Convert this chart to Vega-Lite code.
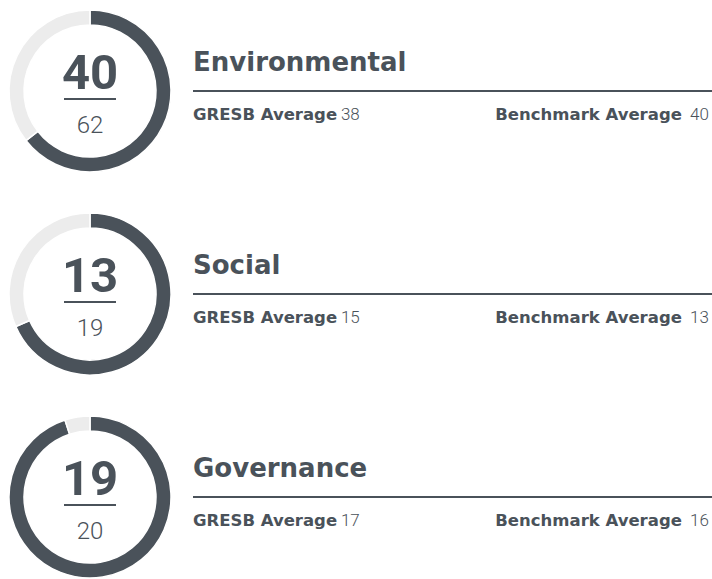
{
  "$schema": "https://vega.github.io/schema/vega-lite/v6.json",
  "padding": {"left": 6, "top": 7, "right": 0, "bottom": 0},
  "spacing": 35,
  "background": "white",
  "config": {"view": {"stroke": null}, "concat": {"spacing": 18}, "text": {"color": "#4a525a"}},
  "datasets": {
    "slices": [
      {"category": "Environmental", "part": "score", "ord": 1, "value": 40},
      {"category": "Environmental", "part": "rest", "ord": 2, "value": 22},
      {"category": "Social", "part": "score", "ord": 1, "value": 13},
      {"category": "Social", "part": "rest", "ord": 2, "value": 6},
      {"category": "Governance", "part": "score", "ord": 1, "value": 19},
      {"category": "Governance", "part": "rest", "ord": 2, "value": 1}
    ],
    "cats": [
      {"category": "Environmental", "score": 40, "max": 62, "gresb": 38, "benchmark": 40},
      {"category": "Social", "score": 13, "max": 19, "gresb": 15, "benchmark": 13},
      {"category": "Governance", "score": 19, "max": 20, "gresb": 17, "benchmark": 16}
    ]
  },
  "vconcat": [
    {
      "hconcat": [
        {
          "width": 164, "height": 164,
          "layer": [
            {"data": {"name": "slices"}, "transform": [{"filter": "datum.category === 'Environmental'"}],
             "mark": {"type": "arc", "innerRadius": 66, "outerRadius": 81, "stroke": "#ffffff", "strokeWidth": 1.5},
             "encoding": {"theta": {"field": "value", "type": "quantitative", "stack": true},
                          "color": {"field": "part", "type": "nominal", "scale": {"domain": ["score", "rest"], "range": ["#4a525a", "#ececec"]}, "legend": null},
                          "order": {"field": "ord", "type": "quantitative"}}},
            {"data": {"name": "cats"}, "transform": [{"filter": "datum.category === 'Environmental'"}],
             "mark": {"type": "text", "font": "Roboto", "fontSize": 49, "fontWeight": "bold", "baseline": "alphabetic", "align": "center"},
             "encoding": {"text": {"field": "score"},
                          "x": {"datum": 0, "type": "quantitative", "scale": {"domain": [-1, 1], "nice": false}, "axis": null},
                          "y": {"datum": 0.024, "type": "quantitative", "scale": {"domain": [-1, 1], "nice": false}, "axis": null}}},
            {"data": {"name": "cats"}, "transform": [{"filter": "datum.category === 'Environmental'"}],
             "mark": {"type": "rule", "strokeWidth": 2, "color": "#4a525a"},
             "encoding": {"x": {"datum": -0.317, "type": "quantitative"}, "x2": {"datum": 0.317}, "y": {"datum": -0.098, "type": "quantitative"}}},
            {"data": {"name": "cats"}, "transform": [{"filter": "datum.category === 'Environmental'"}],
             "mark": {"type": "text", "font": "Roboto", "fontSize": 24, "fontWeight": 300, "baseline": "alphabetic", "align": "center"},
             "encoding": {"text": {"field": "max"}, "x": {"datum": 0, "type": "quantitative"}, "y": {"datum": -0.512, "type": "quantitative"}}}
          ]
        },
        {
          "width": 519, "height": 164,
          "data": {"name": "cats"}, "transform": [{"filter": "datum.category === 'Environmental'"}],
          "encoding": {"x": {"datum": 0, "type": "quantitative", "scale": {"domain": [0, 1], "nice": false}, "axis": null}},
          "layer": [
            {"mark": {"type": "text", "font": "DejaVu Sans", "fontSize": 26, "fontWeight": "bold", "baseline": "alphabetic", "align": "left"},
             "encoding": {"text": {"field": "category"}, "y": {"datum": 0.244, "type": "quantitative", "scale": {"domain": [-1, 1], "nice": false}, "axis": null}}},
            {"mark": {"type": "rule", "strokeWidth": 2, "color": "#4a525a"},
             "encoding": {"x2": {"datum": 1}, "y": {"datum": 0, "type": "quantitative"}}},
            {"mark": {"type": "text", "font": "DejaVu Sans", "fontSize": 16.5, "fontWeight": "bold", "baseline": "alphabetic", "align": "left", "text": "GRESB Average"},
             "encoding": {"y": {"datum": -0.354, "type": "quantitative"}}},
            {"mark": {"type": "text", "font": "Roboto", "fontSize": 17, "fontWeight": 300, "baseline": "alphabetic", "align": "left"},
             "encoding": {"text": {"field": "gresb"}, "x": {"datum": 0.285, "type": "quantitative"}, "y": {"datum": -0.354, "type": "quantitative"}}},
            {"mark": {"type": "text", "font": "DejaVu Sans", "fontSize": 16.5, "fontWeight": "bold", "baseline": "alphabetic", "align": "right", "text": "Benchmark Average"},
             "encoding": {"x": {"datum": 0.942, "type": "quantitative"}, "y": {"datum": -0.354, "type": "quantitative"}}},
            {"mark": {"type": "text", "font": "Roboto", "fontSize": 17, "fontWeight": 300, "baseline": "alphabetic", "align": "right"},
             "encoding": {"text": {"field": "benchmark"}, "x": {"datum": 0.994, "type": "quantitative"}, "y": {"datum": -0.354, "type": "quantitative"}}}
          ]
        }
      ]
    },
    {
      "hconcat": [
        {
          "width": 164, "height": 164,
          "layer": [
            {"data": {"name": "slices"}, "transform": [{"filter": "datum.category === 'Social'"}],
             "mark": {"type": "arc", "innerRadius": 66, "outerRadius": 81, "stroke": "#ffffff", "strokeWidth": 1.5},
             "encoding": {"theta": {"field": "value", "type": "quantitative", "stack": true},
                          "color": {"field": "part", "type": "nominal", "scale": {"domain": ["score", "rest"], "range": ["#4a525a", "#ececec"]}, "legend": null},
                          "order": {"field": "ord", "type": "quantitative"}}},
            {"data": {"name": "cats"}, "transform": [{"filter": "datum.category === 'Social'"}],
             "mark": {"type": "text", "font": "Roboto", "fontSize": 49, "fontWeight": "bold", "baseline": "alphabetic", "align": "center"},
             "encoding": {"text": {"field": "score"},
                          "x": {"datum": 0, "type": "quantitative", "scale": {"domain": [-1, 1], "nice": false}, "axis": null},
                          "y": {"datum": 0.024, "type": "quantitative", "scale": {"domain": [-1, 1], "nice": false}, "axis": null}}},
            {"data": {"name": "cats"}, "transform": [{"filter": "datum.category === 'Social'"}],
             "mark": {"type": "rule", "strokeWidth": 2, "color": "#4a525a"},
             "encoding": {"x": {"datum": -0.317, "type": "quantitative"}, "x2": {"datum": 0.317}, "y": {"datum": -0.098, "type": "quantitative"}}},
            {"data": {"name": "cats"}, "transform": [{"filter": "datum.category === 'Social'"}],
             "mark": {"type": "text", "font": "Roboto", "fontSize": 24, "fontWeight": 300, "baseline": "alphabetic", "align": "center"},
             "encoding": {"text": {"field": "max"}, "x": {"datum": 0, "type": "quantitative"}, "y": {"datum": -0.512, "type": "quantitative"}}}
          ]
        },
        {
          "width": 519, "height": 164,
          "data": {"name": "cats"}, "transform": [{"filter": "datum.category === 'Social'"}],
          "encoding": {"x": {"datum": 0, "type": "quantitative", "scale": {"domain": [0, 1], "nice": false}, "axis": null}},
          "layer": [
            {"mark": {"type": "text", "font": "DejaVu Sans", "fontSize": 26, "fontWeight": "bold", "baseline": "alphabetic", "align": "left"},
             "encoding": {"text": {"field": "category"}, "y": {"datum": 0.244, "type": "quantitative", "scale": {"domain": [-1, 1], "nice": false}, "axis": null}}},
            {"mark": {"type": "rule", "strokeWidth": 2, "color": "#4a525a"},
             "encoding": {"x2": {"datum": 1}, "y": {"datum": 0, "type": "quantitative"}}},
            {"mark": {"type": "text", "font": "DejaVu Sans", "fontSize": 16.5, "fontWeight": "bold", "baseline": "alphabetic", "align": "left", "text": "GRESB Average"},
             "encoding": {"y": {"datum": -0.354, "type": "quantitative"}}},
            {"mark": {"type": "text", "font": "Roboto", "fontSize": 17, "fontWeight": 300, "baseline": "alphabetic", "align": "left"},
             "encoding": {"text": {"field": "gresb"}, "x": {"datum": 0.285, "type": "quantitative"}, "y": {"datum": -0.354, "type": "quantitative"}}},
            {"mark": {"type": "text", "font": "DejaVu Sans", "fontSize": 16.5, "fontWeight": "bold", "baseline": "alphabetic", "align": "right", "text": "Benchmark Average"},
             "encoding": {"x": {"datum": 0.942, "type": "quantitative"}, "y": {"datum": -0.354, "type": "quantitative"}}},
            {"mark": {"type": "text", "font": "Roboto", "fontSize": 17, "fontWeight": 300, "baseline": "alphabetic", "align": "right"},
             "encoding": {"text": {"field": "benchmark"}, "x": {"datum": 0.994, "type": "quantitative"}, "y": {"datum": -0.354, "type": "quantitative"}}}
          ]
        }
      ]
    },
    {
      "hconcat": [
        {
          "width": 164, "height": 164,
          "layer": [
            {"data": {"name": "slices"}, "transform": [{"filter": "datum.category === 'Governance'"}],
             "mark": {"type": "arc", "innerRadius": 66, "outerRadius": 81, "stroke": "#ffffff", "strokeWidth": 1.5},
             "encoding": {"theta": {"field": "value", "type": "quantitative", "stack": true},
                          "color": {"field": "part", "type": "nominal", "scale": {"domain": ["score", "rest"], "range": ["#4a525a", "#ececec"]}, "legend": null},
                          "order": {"field": "ord", "type": "quantitative"}}},
            {"data": {"name": "cats"}, "transform": [{"filter": "datum.category === 'Governance'"}],
             "mark": {"type": "text", "font": "Roboto", "fontSize": 49, "fontWeight": "bold", "baseline": "alphabetic", "align": "center"},
             "encoding": {"text": {"field": "score"},
                          "x": {"datum": 0, "type": "quantitative", "scale": {"domain": [-1, 1], "nice": false}, "axis": null},
                          "y": {"datum": 0.024, "type": "quantitative", "scale": {"domain": [-1, 1], "nice": false}, "axis": null}}},
            {"data": {"name": "cats"}, "transform": [{"filter": "datum.category === 'Governance'"}],
             "mark": {"type": "rule", "strokeWidth": 2, "color": "#4a525a"},
             "encoding": {"x": {"datum": -0.317, "type": "quantitative"}, "x2": {"datum": 0.317}, "y": {"datum": -0.098, "type": "quantitative"}}},
            {"data": {"name": "cats"}, "transform": [{"filter": "datum.category === 'Governance'"}],
             "mark": {"type": "text", "font": "Roboto", "fontSize": 24, "fontWeight": 300, "baseline": "alphabetic", "align": "center"},
             "encoding": {"text": {"field": "max"}, "x": {"datum": 0, "type": "quantitative"}, "y": {"datum": -0.512, "type": "quantitative"}}}
          ]
        },
        {
          "width": 519, "height": 164,
          "data": {"name": "cats"}, "transform": [{"filter": "datum.category === 'Governance'"}],
          "encoding": {"x": {"datum": 0, "type": "quantitative", "scale": {"domain": [0, 1], "nice": false}, "axis": null}},
          "layer": [
            {"mark": {"type": "text", "font": "DejaVu Sans", "fontSize": 26, "fontWeight": "bold", "baseline": "alphabetic", "align": "left"},
             "encoding": {"text": {"field": "category"}, "y": {"datum": 0.244, "type": "quantitative", "scale": {"domain": [-1, 1], "nice": false}, "axis": null}}},
            {"mark": {"type": "rule", "strokeWidth": 2, "color": "#4a525a"},
             "encoding": {"x2": {"datum": 1}, "y": {"datum": 0, "type": "quantitative"}}},
            {"mark": {"type": "text", "font": "DejaVu Sans", "fontSize": 16.5, "fontWeight": "bold", "baseline": "alphabetic", "align": "left", "text": "GRESB Average"},
             "encoding": {"y": {"datum": -0.354, "type": "quantitative"}}},
            {"mark": {"type": "text", "font": "Roboto", "fontSize": 17, "fontWeight": 300, "baseline": "alphabetic", "align": "left"},
             "encoding": {"text": {"field": "gresb"}, "x": {"datum": 0.285, "type": "quantitative"}, "y": {"datum": -0.354, "type": "quantitative"}}},
            {"mark": {"type": "text", "font": "DejaVu Sans", "fontSize": 16.5, "fontWeight": "bold", "baseline": "alphabetic", "align": "right", "text": "Benchmark Average"},
             "encoding": {"x": {"datum": 0.942, "type": "quantitative"}, "y": {"datum": -0.354, "type": "quantitative"}}},
            {"mark": {"type": "text", "font": "Roboto", "fontSize": 17, "fontWeight": 300, "baseline": "alphabetic", "align": "right"},
             "encoding": {"text": {"field": "benchmark"}, "x": {"datum": 0.994, "type": "quantitative"}, "y": {"datum": -0.354, "type": "quantitative"}}}
          ]
        }
      ]
    }
  ]
}
